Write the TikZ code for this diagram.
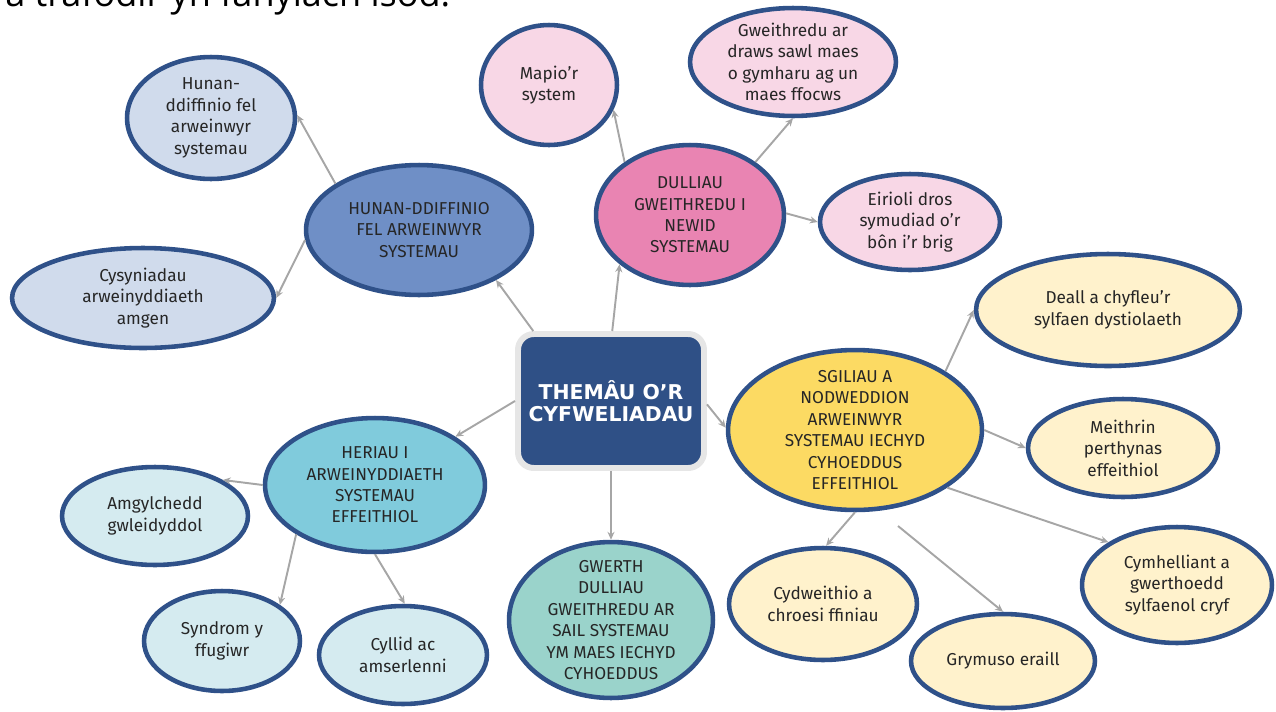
\documentclass[tikz,border=0pt]{standalone}
\usepackage{fontspec}
\setmainfont{Fira Sans}
\newfontfamily\titlefont{DejaVu Sans}
\newfontfamily\headfont{Open Sans}
\usetikzlibrary{shapes.geometric,arrows.meta}
\definecolor{rim}{HTML}{2F5189}
\definecolor{boxrim}{HTML}{E6E6E6}
\definecolor{titleblue}{HTML}{2F5086}
\definecolor{linkgray}{HTML}{A6A6A6}
\definecolor{bluemid}{HTML}{6F8FC6}
\definecolor{blueleaf}{HTML}{D0DBEC}
\definecolor{pinkmid}{HTML}{E984B2}
\definecolor{pinkleaf}{HTML}{F8D7E6}
\definecolor{yellowmid}{HTML}{FCDA63}
\definecolor{yellowleaf}{HTML}{FFF2CC}
\definecolor{cyanmid}{HTML}{80CBDC}
\definecolor{cyanleaf}{HTML}{D5EBF0}
\definecolor{tealmid}{HTML}{9AD3CB}
\tikzset{
  bub/.style={ellipse,draw=rim,line width=2.6pt,inner sep=-8pt,align=center,
    font=\fontsize{9.8}{12.2}\selectfont,text=black!85},
  sz/.style 2 args={minimum width=#1*0.04cm,minimum height=#2*0.04cm},
  link/.style={draw=linkgray,line width=1.1pt,-{Stealth[length=4.5pt,width=4pt]}}
}
\begin{document}
\begin{tikzpicture}[x=0.02cm,y=-0.02cm]
    \useasboundingbox (0,0) rectangle (1276,711);
    \node[anchor=base west,inner sep=0,font=\headfont\fontsize{20.5}{22}\selectfont] (intro) at (5,6) {a trafodir yn fanylach isod.};
    \node[draw=boxrim,line width=3.4pt,fill=titleblue,rounded corners=9pt,
      minimum width=186*0.02cm,minimum height=134*0.02cm,align=center,text=white,
      font=\titlefont\bfseries\fontsize{11.6}{12.6}\selectfont] (themau) at (611,401) {THEMÂU O’R\\CYFWELIADAU};
    \node[bub,sz={113}{65},fill=bluemid] (hunan) at (419,230) {HUNAN-DDIFFINIO\\FEL ARWEINWYR\\SYSTEMAU};
    \node[bub,sz={84}{61},fill=blueleaf] (hunanleaf) at (211,118) {Hunan-\\ddiffinio fel\\arweinwyr\\systemau};
    \node[bub,sz={131}{50},fill=blueleaf] (cysyn) at (143,298) {Cysyniadau\\arweinyddiaeth\\amgen};
    \node[bub,sz={94}{70},fill=pinkmid] (dulliau) at (690,215) {DULLIAU\\GWEITHREDU I\\NEWID\\SYSTEMAU};
    \node[bub,sz={68}{60},fill=pinkleaf] (mapio) at (549,85) {Mapio’r\\system};
    \node[bub,sz={103}{54},fill=pinkleaf] (gweith) at (793,62) {Gweithredu ar\\draws sawl maes\\o gymharu ag un\\maes ffocws};
    \node[bub,sz={90}{48},fill=pinkleaf] (eirioli) at (910,222) {Eirioli dros\\symudiad o'r\\bôn i’r brig};
    \node[bub,sz={127}{80},fill=yellowmid] (sgiliau) at (855,430) {SGILIAU A\\NODWEDDION\\ARWEINWYR\\SYSTEMAU IECHYD\\CYHOEDDUS\\EFFEITHIOL};
    \node[bub,sz={132}{56},fill=yellowleaf] (deall) at (1108,310) {Deall a chyfleu’r\\sylfaen dystiolaeth};
    \node[bub,sz={95}{49},fill=yellowleaf] (meithrin) at (1123,448) {Meithrin\\perthynas\\effeithiol};
    \node[bub,sz={95}{58},fill=yellowleaf] (cymhell) at (1177,585) {Cymhelliant a\\gwerthoedd\\sylfaenol cryf};
    \node[bub,sz={94}{56},fill=yellowleaf] (cydweith) at (823,604) {Cydweithio a\\chroesi ffiniau};
    \node[bub,sz={92}{47},fill=yellowleaf] (grymuso) at (1003,661) {Grymuso eraill};
    \node[bub,sz={102}{78},fill=tealmid] (gwerth) at (611,620) {GWERTH\\DULLIAU\\GWEITHREDU AR\\SAIL SYSTEMAU\\YM MAES IECHYD\\CYHOEDDUS};
    \node[bub,sz={110}{67},fill=cyanmid] (heriau) at (375,485) {HERIAU I\\ARWEINYDDIAETH\\SYSTEMAU\\EFFEITHIOL};
    \node[bub,sz={93}{49},fill=cyanleaf] (amgylch) at (155,516) {Amgylchedd\\gwleidyddol};
    \node[bub,sz={78}{50},fill=cyanleaf] (syndrom) at (222,641) {Syndrom y\\ffugiwr};
    \node[bub,sz={84}{49},fill=cyanleaf] (cyllid) at (403,655) {Cyllid ac\\amserlenni};
    \coordinate (gfree) at (898,526);
    \draw[link] (themau.138) -- (hunan.-33);
    \draw[link] (hunan.151) -- (hunanleaf.2);
    \draw[link] (hunan.185) -- (cysyn.0);
    \draw[link] (themau.89) -- (dulliau.215);
    \draw[link] (dulliau.141) -- (mapio.-21);
    \draw[link] (dulliau.39) -- (gweith.-90);
    \draw[link] (dulliau.1) -- (eirioli.180);
    \draw[link] (themau.-2) -- (sgiliau.179);
    \draw[link] (sgiliau.33) -- (deall.180);
    \draw[link] (sgiliau.0) -- (meithrin.180);
    \draw[link] (sgiliau.-32) -- (cymhell.148);
    \draw[link] (sgiliau.-90) -- (cydweith.87);
    \draw[link] (gfree) -- (grymuso.90);
    \draw[link] (themau.-90) -- (gwerth.90);
    \draw[link] (themau.180) -- (heriau.31);
    \draw[link] (heriau.180) -- (amgylch.28);
    \draw[link] (heriau.212) -- (syndrom.32);
    \draw[link] (heriau.-90) -- (cyllid.88);
\end{tikzpicture}
\end{document}
